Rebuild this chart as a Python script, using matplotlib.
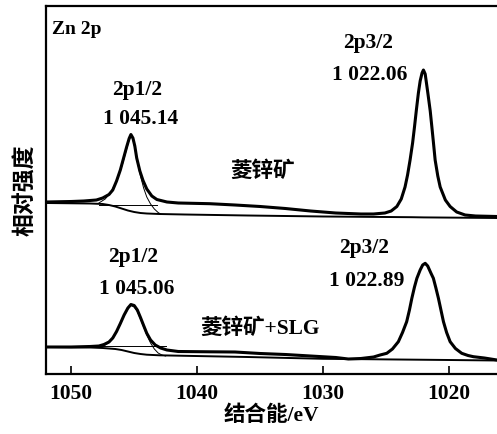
from matplotlib import pyplot as plt

# Binding energy (eV) and relative intensity.
# Upper spectrum: smithsonite.
top_energy = [1052.0, 1050.0, 1049.0, 1048.0, 1047.5, 1047.0, 1046.7, 1046.4,
              1046.1, 1045.85, 1045.6, 1045.4, 1045.26, 1045.1, 1044.95, 1044.8,
              1044.55, 1044.3, 1044.0, 1043.6, 1043.2, 1042.4, 1041.5, 1039.0,
              1037.0, 1035.0, 1033.0, 1031.0, 1029.0, 1027.0, 1026.0, 1025.1,
              1024.6, 1024.15, 1023.8, 1023.5, 1023.3, 1023.1, 1022.9, 1022.75,
              1022.6, 1022.44, 1022.3, 1022.15, 1022.04, 1021.9, 1021.8, 1021.69,
              1021.5, 1021.37, 1021.25, 1021.11, 1020.9, 1020.71, 1020.3, 1019.92,
              1019.4, 1018.73, 1017.9, 1016.2]
top_counts = [172, 172.5, 173, 174, 176, 179.5, 184, 193,
              204, 215.5, 227, 235.5, 239.5, 236, 228, 216,
              203, 193.5, 185, 178, 174.5, 172, 171, 170.3,
              169, 167.5, 165.5, 163, 161, 160, 160, 161,
              163, 167.5, 175, 187, 199, 214, 231, 247,
              264, 281, 293, 301, 304, 300, 291, 281,
              263, 247, 232, 214, 198, 187, 174, 167.5,
              162, 159, 158, 157.5]

top_bg_energy = [1052.0, 1048.5, 1047.5, 1047.0, 1046.5, 1046.0, 1045.5, 1045.0,
                 1044.5, 1044.0, 1043.0, 1041.0, 1036.0, 1030.0, 1025.0, 1023.0,
                 1022.0, 1021.0, 1019.0, 1016.2]
top_bg_counts = [171, 170.5, 170, 169, 167.5, 165.5, 163.5, 162,
                 161, 160.5, 160, 159.5, 158.5, 157.5, 157, 156.8,
                 156.6, 156.5, 156.3, 156]

top_fit_energy = [1047.8, 1047.3, 1046.9, 1046.5, 1046.2, 1045.9, 1045.6, 1045.4,
                  1045.26, 1045.1, 1044.95, 1044.75, 1044.5, 1044.25, 1044.0,
                  1043.7, 1043.4, 1043.1, 1042.9]
top_fit_counts = [171, 175, 181, 190, 199.5, 211, 225, 234,
                  238, 234.5, 226, 212, 198, 186, 177,
                  170, 165, 161.5, 160]

# Lower spectrum: smithsonite + SLG.
bottom_energy = [1052.0, 1050.0, 1048.5, 1047.8, 1047.4, 1047.0, 1046.7, 1046.4,
                 1046.1, 1045.8, 1045.5, 1045.26, 1045.0, 1044.75, 1044.5, 1044.25,
                 1044.0, 1043.7, 1043.33, 1042.9, 1042.4, 1041.5, 1039.0, 1037.0,
                 1035.0, 1033.0, 1031.0, 1029.0, 1028.0, 1027.0, 1026.0, 1025.48,
                 1024.95, 1024.5, 1024.03, 1023.7, 1023.37, 1023.15, 1022.96, 1022.75,
                 1022.56, 1022.3, 1022.1, 1021.9, 1021.7, 1021.45, 1021.25, 1021.05,
                 1020.85, 1020.65, 1020.45, 1020.2, 1019.92, 1019.5, 1019.0, 1018.5,
                 1018.07, 1017.2, 1016.2]
bottom_counts = [27, 27, 27.5, 28, 29.5, 32, 36, 42.5,
                 50.5, 59, 66, 69.5, 68.5, 64, 56.5, 48.5,
                 40.7, 34, 29, 26, 24, 22.5, 22.2, 22,
                 20.5, 19.5, 18, 16.5, 15, 15.5, 17, 19,
                 20.7, 25, 32.3, 41.5, 52.3, 64, 75.7, 87,
                 95.7, 104, 109, 110.7, 108, 101, 95.7, 86,
                 75.7, 64, 52.3, 41.5, 32.3, 25.5, 20.7, 18.5,
                 17.3, 16, 14]

bottom_bg_energy = [1052.0, 1048.5, 1047.5, 1046.5, 1046.0, 1045.5, 1045.0, 1044.5,
                    1044.0, 1043.0, 1041.0, 1036.0, 1030.0, 1025.0, 1020.0, 1016.2]
bottom_bg_counts = [27, 26.5, 26, 25, 24, 22.5, 21, 20,
                    19.3, 18.7, 18.2, 17, 15.2, 14.6, 14.0, 13.5]

bottom_fit_energy = [1047.8, 1047.3, 1047.0, 1046.7, 1046.4, 1046.1, 1045.8, 1045.5,
                     1045.26, 1045.0, 1044.75, 1044.5, 1044.25, 1044.0, 1043.7,
                     1043.4, 1043.1, 1042.8, 1042.5]
bottom_fit_counts = [27, 29, 31.5, 35.5, 42, 50, 58, 65,
                     68.5, 67, 62.5, 55, 47, 39, 31,
                     25, 21, 19, 18]

# Flat thin lines under the 2p1/2 peaks (start, end, level).
top_flat = [1047.8, 1043.2, 169.5]
bottom_flat = [1048.1, 1042.5, 28]

# Peak annotations: (text, energy, intensity).
labels = [
    ('2p1/2', 1044.76, 284), ('1 045.14', 1044.52, 255),
    ('2p3/2', 1026.43, 331), ('1 022.06', 1026.27, 299),
    ('2p1/2', 1045.08, 117), ('1 045.06', 1044.84, 85),
    ('2p3/2', 1026.75, 126), ('1 022.89', 1026.51, 93),
]
sample_labels = [('菱锌矿', 1034.84, 202), ('菱锌矿+SLG', 1035.0, 45)]

xticks = [1050, 1040, 1030, 1020]

FAMILY = ['Liberation Serif', 'Noto Sans CJK SC']


def draw_spectrum(ax, energy, counts, bg_energy, bg_counts,
                  fit_energy, fit_counts, flat):
    ax.plot(bg_energy, bg_counts, color = 'black', linewidth = 1.4)
    ax.plot(fit_energy, fit_counts, color = 'black', linewidth = 0.7)
    ax.plot(flat[:2], [flat[2], flat[2]], color = 'black', linewidth = 0.7)
    ax.plot(energy, counts, color = 'black', linewidth = 2.2)


def main():
    fig = plt.figure(figsize = (4.97, 4.34), dpi = 100)
    ax = fig.add_axes([46 / 497, 60 / 434, 1 - 46 / 497, 368 / 434])

    draw_spectrum(ax, top_energy, top_counts, top_bg_energy, top_bg_counts,
                  top_fit_energy, top_fit_counts, top_flat)
    draw_spectrum(ax, bottom_energy, bottom_counts, bottom_bg_energy,
                  bottom_bg_counts, bottom_fit_energy, bottom_fit_counts,
                  bottom_flat)

    for text, x, y in labels:
        ax.text(x, y, text, ha = 'center', va = 'center', fontsize = 15.5,
                family = FAMILY, weight = 'bold')
    for text, x, y in sample_labels:
        ax.text(x, y, text, ha = 'center', va = 'center', fontsize = 15.5,
                family = FAMILY, weight = 'bold')
    ax.text(1051.5, 345, 'Zn 2p', ha = 'left', va = 'center', fontsize = 14,
            family = FAMILY, weight = 'bold')

    ax.set_xlim(1052, 1016.2)
    ax.set_ylim(0, 368)
    ax.set_xticks(xticks)
    ax.set_xticklabels([str(t) for t in xticks], family = FAMILY,
                       fontsize = 15.5, weight = 'bold')
    ax.set_yticks([])
    ax.tick_params(axis = 'x', direction = 'in', length = 6, width = 1.2,
                   pad = 7)
    ax.spines['right'].set_visible(False)
    for side in ['left', 'top', 'bottom']:
        ax.spines[side].set_linewidth(1.6)

    ax.set_xlabel('结合能/eV', family = FAMILY, fontsize = 15.5,
                  weight = 'bold', labelpad = 1)
    ax.set_ylabel('相对强度', family = FAMILY, fontsize = 16.5,
                  weight = 'bold', labelpad = 6)

    plt.savefig('out.png', dpi = 100)


if __name__ == '__main__':
    main()
